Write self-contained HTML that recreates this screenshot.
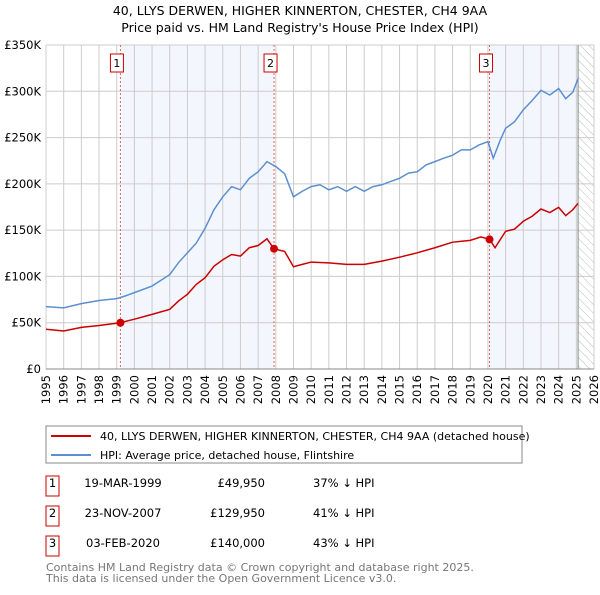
<!DOCTYPE html>
<html><head><meta charset="utf-8"><style>
body{margin:0;background:#fff;font-family:"Liberation Sans","DejaVu Sans",sans-serif;}
svg text{font-family:"DejaVu Sans","Liberation Sans",sans-serif;}
</style></head><body>
<svg width="600" height="590" xmlns="http://www.w3.org/2000/svg">
<defs><pattern id="hatch" width="6" height="6" patternUnits="userSpaceOnUse" patternTransform="rotate(-45)"><line x1="0" y1="0" x2="0" y2="6" stroke="#bbb" stroke-width="1"/></pattern></defs>
<text x="300" y="15" text-anchor="middle" font-size="12.5">40, LLYS DERWEN, HIGHER KINNERTON, CHESTER, CH4 9AA</text>
<text x="300" y="32" text-anchor="middle" font-size="12.5">Price paid vs. HM Land Registry's House Price Index (HPI)</text>
<g id="plot"></g>
<rect x="46" y="426" width="476" height="37" fill="#fff" stroke="#888"/>
<line x1="51" y1="436" x2="91" y2="436" stroke="#cc0000" stroke-width="2"/>
<text x="100" y="440" font-size="11">40, LLYS DERWEN, HIGHER KINNERTON, CHESTER, CH4 9AA (detached house)</text>
<line x1="51" y1="455" x2="91" y2="455" stroke="#5b8fd0" stroke-width="2"/>
<text x="100" y="459" font-size="11">HPI: Average price, detached house, Flintshire</text>
<g id="table" font-size="11.5"></g>
<text x="46" y="571" font-size="11" fill="#777">Contains HM Land Registry data © Crown copyright and database right 2025.</text>
<text x="46" y="582" font-size="11" fill="#777">This data is licensed under the Open Government Licence v3.0.</text>
</svg>
<script>
const hpiYears=[1995,1996,1997,1998,1999,1999.5,2000,2001,2002,2002.5,2003,2003.5,2004,2004.5,2005,2005.5,2006,2006.5,2007,2007.5,2008,2008.5,2009,2009.5,2010,2010.5,2011,2011.5,2012,2012.5,2013,2013.5,2014,2014.5,2015,2015.5,2016,2016.5,2017,2017.5,2018,2018.5,2019,2019.5,2020,2020.3,2020.7,2021,2021.5,2022,2022.5,2023,2023.5,2024,2024.4,2024.8,2025.1];
const hpiValues=[67.4,66,70.6,74,76,79,82.5,89.6,102,115,125.5,136,152,172,186,197,193.6,206,213,224,218.7,211,186,192,197,199,193.6,197,192,197,192,197,199,202.6,206,211.6,213,220.5,224,227.7,231,236.7,236.7,242,245.6,227.7,247.4,260,267,280,290,301,296,303,292,299,313.8];
const priceYears=[1995,1996,1997,1998,1999.2,2000,2001,2002,2002.5,2003,2003.5,2004,2004.5,2005,2005.5,2006,2006.5,2007,2007.5,2007.9,2008.5,2009,2009.5,2010,2011,2012,2013,2014,2015,2016,2017,2018,2019,2019.6,2020.1,2020.4,2021,2021.5,2022,2022.5,2023,2023.5,2024,2024.4,2024.8,2025.1];
const priceValues=[43,41,45,47,50,53.8,59,64.5,73.5,80.7,91.4,98.6,111,118,123.7,122,131,133.4,140.6,129.8,127,110.5,113,115.5,114.7,113,113,116.5,120.8,125.5,131,137,139,142.7,140,131,148.8,151,159.6,165,172.8,169,174.6,165.7,172,179];
const saleYears=[1999.21,2007.9,2020.09];
const saleValues=[49.95,129.95,140];
const saleLabels=["1","2","3"];
const saleDates=["19-MAR-1999","23-NOV-2007","03-FEB-2020"];
const salePrices=["£49,950","£129,950","£140,000"];
const saleDiffs=["37% ↓ HPI","41% ↓ HPI","43% ↓ HPI"];
const yTicks=[0,50,100,150,200,250,300,350];
const yTickLabels=["£0","£50K","£100K","£150K","£200K","£250K","£300K","£350K"];
const xTicks=[];for(let y=1995;y<=2026;y++)xTicks.push(y);
const dataEnd=2025.1;
const NS="http://www.w3.org/2000/svg";
const L=46,R=594,T=45,B=369;
const x=v=>L+(v-1995)/(2026-1995)*(R-L);
const y=v=>B-v/350*(B-T);
const g=document.getElementById('plot');
function mk(tag,a,parent){const e=document.createElementNS(NS,tag);for(const k in a)e.setAttribute(k,a[k]);(parent||g).appendChild(e);return e;}
let e;
e=mk('rect',{x:x(saleYears[0]),y:T,width:x(saleYears[1])-x(saleYears[0]),height:B-T,fill:'#eef3fc',opacity:0.7});

e=mk('rect',{x:x(saleYears[2]),y:T,width:x(dataEnd)-x(saleYears[2]),height:B-T,fill:'#eef3fc',opacity:0.7});

e=mk('rect',{x:x(dataEnd),y:T,width:R-x(dataEnd),height:B-T,fill:'url(#hatch)'});

xTicks.forEach(t=>{e=mk('line',{x1:x(t),y1:T,x2:x(t),y2:B,stroke:'#ccc','stroke-width':1});

e=mk('text',{x:0,y:0,'font-size':11.5,'text-anchor':'end',transform:`translate(${x(t)+4},${B+6}) rotate(-90)`});e.textContent=t;
});
yTicks.forEach((t,i)=>{e=mk('line',{x1:L,y1:y(t),x2:R,y2:y(t),stroke:'#ccc','stroke-width':1});

e=mk('text',{x:L-5,y:y(t)+4,'font-size':11.5,'text-anchor':'end'});e.textContent=yTickLabels[i];
});
e=mk('line',{x1:x(dataEnd),y1:T,x2:x(dataEnd),y2:B,stroke:'#888','stroke-width':1});

e=mk('line',{x1:L,y1:B,x2:R,y2:B,stroke:'#888'});

saleYears.forEach((s,i)=>{e=mk('line',{x1:x(s),y1:T,x2:x(s),y2:B,stroke:'#e06060','stroke-dasharray':'2,2','stroke-width':1});

e=mk('rect',{x:x(s)-10,y:54,width:13,height:18,fill:'#fff',stroke:'#cc0000'});

e=mk('text',{x:x(s)-3.5,y:67,'font-size':11,'text-anchor':'middle'});e.textContent=saleLabels[i];
});
e=mk('polyline',{points:hpiYears.map((v,i)=>x(v)+','+y(hpiValues[i])).join(' '),fill:'none',stroke:'#5b8fd0','stroke-width':1.5});

e=mk('polyline',{points:priceYears.map((v,i)=>x(v)+','+y(priceValues[i])).join(' '),fill:'none',stroke:'#cc0000','stroke-width':1.5});

saleYears.forEach((s,i)=>{e=mk('circle',{cx:x(s),cy:y(saleValues[i]),r:4,fill:'#cc0000'});
});
const tb=document.getElementById('table');
saleLabels.forEach((l,i)=>{const yy=487+i*30;
e=mk('rect',{x:46,y:yy-11,width:13,height:20,fill:'#fff',stroke:'#cc0000'},tb);

e=mk('text',{x:52.5,y:yy,'text-anchor':'middle'},tb);e.textContent=l;

e=mk('text',{x:123,y:yy,'text-anchor':'middle'},tb);e.textContent=saleDates[i];

e=mk('text',{x:265,y:yy,'text-anchor':'end'},tb);e.textContent=salePrices[i];

e=mk('text',{x:313,y:yy},tb);e.textContent=saleDiffs[i];
});
</script>
</body></html>
